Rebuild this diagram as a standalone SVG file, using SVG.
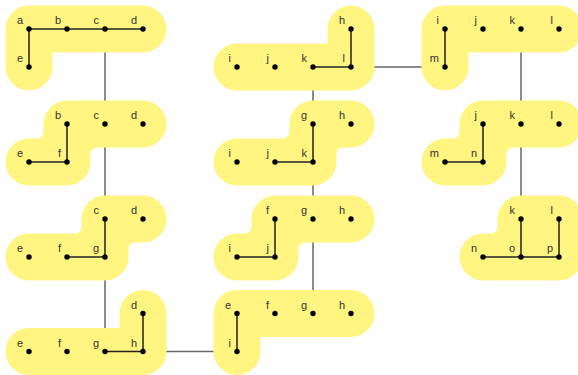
<svg xmlns="http://www.w3.org/2000/svg" width="578" height="375" viewBox="0 0 578 375">
<style>
.blob{fill:none;stroke:#fff580;stroke-width:47;stroke-linecap:round;stroke-linejoin:round}
.fil{fill:#fff580;stroke:none}
.edge{fill:none;stroke:#222;stroke-width:1.5}
.conn{fill:none;stroke:#666;stroke-width:1.5}
.dot{fill:#000}
text{font-family:"Liberation Sans",Arial,sans-serif;font-size:11px;fill:#333;text-anchor:end}
</style>
<rect width="578" height="375" fill="#fff"/>
<g id="connectors">
<line class="conn" x1="105" y1="40" x2="105" y2="340"/>
<line class="conn" x1="150" y1="351.5" x2="230" y2="351.5"/>
<line class="conn" x1="313" y1="60" x2="313" y2="315"/>
<line class="conn" x1="360" y1="67" x2="440" y2="67"/>
<line class="conn" x1="521" y1="40" x2="521" y2="240"/>
</g>
<g id="p1">
<path class="blob" d="M29,67 L29,29 L143,29"/>
<path class="edge" d="M29,67 L29,29 L143,29"/>
<circle class="dot" cx="29" cy="29" r="2.7"/><circle class="dot" cx="67" cy="29" r="2.7"/><circle class="dot" cx="105" cy="29" r="2.7"/><circle class="dot" cx="143" cy="29" r="2.7"/><circle class="dot" cx="29" cy="67" r="2.7"/>
<text x="23" y="24">a</text><text x="61" y="24">b</text><text x="99" y="24">c</text><text x="137" y="24">d</text><text x="23" y="62">e</text>
</g>
<g id="p2">
<path class="blob" d="M29,162 L67,162 L67,124 L143,124"/>
<path class="fil" d="M43.5,138.5 L36.5,138.5 A7 7 0 0 0 43.5,131.5 Z M90.5,147.5 L97.5,147.5 A7 7 0 0 0 90.5,154.5 Z"/>
<path class="edge" d="M29,162 L67,162 L67,124"/>
<circle class="dot" cx="67" cy="124" r="2.7"/><circle class="dot" cx="105" cy="124" r="2.7"/><circle class="dot" cx="143" cy="124" r="2.7"/><circle class="dot" cx="29" cy="162" r="2.7"/><circle class="dot" cx="67" cy="162" r="2.7"/>
<text x="61" y="119">b</text><text x="99" y="119">c</text><text x="137" y="119">d</text><text x="23" y="157">e</text><text x="61" y="157">f</text>
</g>
<g id="p3">
<path class="blob" d="M29,257 L105,257 L105,219 L143,219"/>
<path class="fil" d="M81.5,233.5 L74.5,233.5 A7 7 0 0 0 81.5,226.5 Z M128.5,242.5 L135.5,242.5 A7 7 0 0 0 128.5,249.5 Z"/>
<path class="edge" d="M67,257 L105,257 L105,219"/>
<circle class="dot" cx="105" cy="219" r="2.7"/><circle class="dot" cx="143" cy="219" r="2.7"/><circle class="dot" cx="29" cy="257" r="2.7"/><circle class="dot" cx="67" cy="257" r="2.7"/><circle class="dot" cx="105" cy="257" r="2.7"/>
<text x="99" y="214">c</text><text x="137" y="214">d</text><text x="23" y="252">e</text><text x="61" y="252">f</text><text x="99" y="252">g</text>
</g>
<g id="p4">
<path class="blob" d="M29,351.5 L143,351.5 L143,313.5"/>
<path class="edge" d="M105,351.5 L143,351.5 L143,313.5"/>
<circle class="dot" cx="143" cy="313.5" r="2.7"/><circle class="dot" cx="29" cy="351.5" r="2.7"/><circle class="dot" cx="67" cy="351.5" r="2.7"/><circle class="dot" cx="105" cy="351.5" r="2.7"/><circle class="dot" cx="143" cy="351.5" r="2.7"/>
<text x="137" y="308.5">d</text><text x="23" y="346.5">e</text><text x="61" y="346.5">f</text><text x="99" y="346.5">g</text><text x="137" y="346.5">h</text>
</g>
<g id="p5">
<path class="blob" d="M237,351.5 L237,313.5 L351,313.5"/>
<path class="edge" d="M237,351.5 L237,313.5"/>
<circle class="dot" cx="237" cy="313.5" r="2.7"/><circle class="dot" cx="275" cy="313.5" r="2.7"/><circle class="dot" cx="313" cy="313.5" r="2.7"/><circle class="dot" cx="351" cy="313.5" r="2.7"/><circle class="dot" cx="237" cy="351.5" r="2.7"/>
<text x="231" y="308.5">e</text><text x="269" y="308.5">f</text><text x="307" y="308.5">g</text><text x="345" y="308.5">h</text><text x="231" y="346.5">i</text>
</g>
<g id="p6">
<path class="blob" d="M237,257 L275,257 L275,219 L351,219"/>
<path class="fil" d="M251.5,233.5 L244.5,233.5 A7 7 0 0 0 251.5,226.5 Z M298.5,242.5 L305.5,242.5 A7 7 0 0 0 298.5,249.5 Z"/>
<path class="edge" d="M237,257 L275,257 L275,219"/>
<circle class="dot" cx="275" cy="219" r="2.7"/><circle class="dot" cx="313" cy="219" r="2.7"/><circle class="dot" cx="351" cy="219" r="2.7"/><circle class="dot" cx="237" cy="257" r="2.7"/><circle class="dot" cx="275" cy="257" r="2.7"/>
<text x="269" y="214">f</text><text x="307" y="214">g</text><text x="345" y="214">h</text><text x="231" y="252">i</text><text x="269" y="252">j</text>
</g>
<g id="p7">
<path class="blob" d="M237,162 L313,162 L313,124 L351,124"/>
<path class="fil" d="M289.5,138.5 L282.5,138.5 A7 7 0 0 0 289.5,131.5 Z M336.5,147.5 L343.5,147.5 A7 7 0 0 0 336.5,154.5 Z"/>
<path class="edge" d="M275,162 L313,162 L313,124"/>
<circle class="dot" cx="313" cy="124" r="2.7"/><circle class="dot" cx="351" cy="124" r="2.7"/><circle class="dot" cx="237" cy="162" r="2.7"/><circle class="dot" cx="275" cy="162" r="2.7"/><circle class="dot" cx="313" cy="162" r="2.7"/>
<text x="307" y="119">g</text><text x="345" y="119">h</text><text x="231" y="157">i</text><text x="269" y="157">j</text><text x="307" y="157">k</text>
</g>
<g id="p8">
<path class="blob" d="M237,67 L351,67 L351,29"/>
<path class="edge" d="M313,67 L351,67 L351,29"/>
<circle class="dot" cx="351" cy="29" r="2.7"/><circle class="dot" cx="237" cy="67" r="2.7"/><circle class="dot" cx="275" cy="67" r="2.7"/><circle class="dot" cx="313" cy="67" r="2.7"/><circle class="dot" cx="351" cy="67" r="2.7"/>
<text x="345" y="24">h</text><text x="231" y="62">i</text><text x="269" y="62">j</text><text x="307" y="62">k</text><text x="345" y="62">l</text>
</g>
<g id="p9">
<path class="blob" d="M445,67 L445,29 L559,29"/>
<path class="edge" d="M445,67 L445,29"/>
<circle class="dot" cx="445" cy="29" r="2.7"/><circle class="dot" cx="483" cy="29" r="2.7"/><circle class="dot" cx="521" cy="29" r="2.7"/><circle class="dot" cx="559" cy="29" r="2.7"/><circle class="dot" cx="445" cy="67" r="2.7"/>
<text x="439" y="24">i</text><text x="477" y="24">j</text><text x="515" y="24">k</text><text x="553" y="24">l</text><text x="439" y="62">m</text>
</g>
<g id="p10">
<path class="blob" d="M445,162 L483,162 L483,124 L559,124"/>
<path class="fil" d="M459.5,138.5 L452.5,138.5 A7 7 0 0 0 459.5,131.5 Z M506.5,147.5 L513.5,147.5 A7 7 0 0 0 506.5,154.5 Z"/>
<path class="edge" d="M445,162 L483,162 L483,124"/>
<circle class="dot" cx="483" cy="124" r="2.7"/><circle class="dot" cx="521" cy="124" r="2.7"/><circle class="dot" cx="559" cy="124" r="2.7"/><circle class="dot" cx="445" cy="162" r="2.7"/><circle class="dot" cx="483" cy="162" r="2.7"/>
<text x="477" y="119">j</text><text x="515" y="119">k</text><text x="553" y="119">l</text><text x="439" y="157">m</text><text x="477" y="157">n</text>
</g>
<g id="p11">
<path class="blob" d="M483,257 L559,257 L559,219 L521,219 L521,257"/>
<path class="fil" d="M497.5,233.5 L490.5,233.5 A7 7 0 0 0 497.5,226.5 Z"/>
<path class="edge" d="M483,257 L559,257 L559,219 M521,257 L521,219"/>
<circle class="dot" cx="521" cy="219" r="2.7"/><circle class="dot" cx="559" cy="219" r="2.7"/><circle class="dot" cx="483" cy="257" r="2.7"/><circle class="dot" cx="521" cy="257" r="2.7"/><circle class="dot" cx="559" cy="257" r="2.7"/>
<text x="515" y="214">k</text><text x="553" y="214">l</text><text x="477" y="252">n</text><text x="515" y="252">o</text><text x="553" y="252">p</text>
</g>
</svg>
